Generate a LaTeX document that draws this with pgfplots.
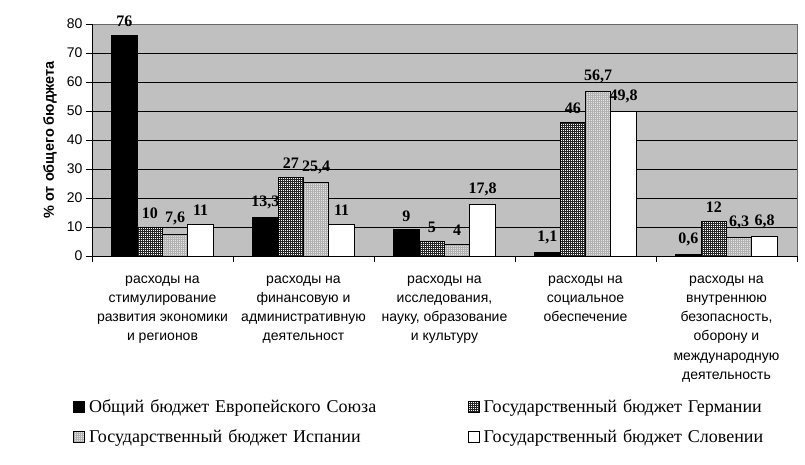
\documentclass[border=0pt]{standalone}
\usepackage{fontspec}
\setmainfont{Liberation Serif}
\setsansfont{Liberation Sans}
\usepackage{pgfplots}
\pgfplotsset{compat=1.18}
\usetikzlibrary{patterns.meta}
\definecolor{bgray}{RGB}{192,192,192}
\begin{document}
\begin{tikzpicture}[x=1pt,y=1pt]
\path[use as bounding box] (0,0) rectangle (805,465);
\begin{axis}[
  at={(92pt,209pt)}, anchor=south west,
  scale only axis, width=705pt, height=232pt,
  xmin=-0.5, xmax=4.5, ymin=0, ymax=80,
  axis x line*=bottom, axis y line*=left,
  axis line style={black, line width=0.8pt},
  axis background/.style={fill=bgray, draw=gray!80!black, line width=0.6pt},
  ybar=0pt, bar width=0.18,
  ytick={0,10,...,80},
  extra y ticks={10,20,...,70},
  extra y tick labels={},
  extra y tick style={ymajorgrids=true, major tick length=0pt, grid style={black, line width=0.8pt}},
  xtick={-0.5,0.5,...,4.5},
  xticklabels={},
  extra x ticks={0,1,2,3,4},
  extra x tick labels={
    {расходы на\\стимулирование\\развития экономики\\и регионов},
    {расходы на\\финансовую и\\административную\\деятельност},
    {расходы на\\исследования,\\науку, образование\\и культуру},
    {расходы на\\социальное\\обеспечение},
    {расходы на\\внутреннюю\\безопасность,\\оборону и\\международную\\деятельность}},
  extra x tick style={major tick length=0pt, xticklabel style={align=center, font=\sffamily\fontsize{14}{19.3}\selectfont, yshift=-16pt}},
  tick align=outside,
  major tick length=6pt,
  tick style={black, line width=0.8pt},
  yticklabel style={font=\sffamily\fontsize{14}{14}\selectfont},
  /pgf/number format/assume math mode=true,
  ylabel={\bfseries\% от общего бюджета},
  ylabel style={font=\sffamily\fontsize{14.5}{14.5}\selectfont, at={(axis description cs:-0.045,0.5)}},
  nodes near coords,
  point meta=explicit symbolic,
  nodes near coords style={font=\bfseries\fontsize{16}{16}\selectfont, anchor=south, yshift=5pt},
  legend columns=2,
  legend cell align=left,
  legend style={draw=none, fill=none, at={(axis description cs:-0.031,-0.6)}, anchor=north west,
    font=\fontsize{18}{18}\selectfont, row sep=12pt,
    /tikz/every odd column/.append style={column sep=0pt},
    nodes={text width=375pt, inner xsep=4pt}},
  legend image code/.code={\draw[#1, line width=0.7pt] (0pt,-5.5pt) rectangle (11pt,5.5pt);},
]
\addplot[fill=black, draw=black, line width=0.8pt] coordinates {(0,76) [76] (1,13.3) [13,3] (2,9) [9] (3,1.1) [1,1] (4,0.6) [0,6]};
\addplot[fill=white, draw=black, line width=0.8pt, postaction={pattern={Hatch[distance=2pt, line width=0.6pt]}, pattern color=black!85}] coordinates {(0,10) [10] (1,27) [27] (2,5) [5] (3,46) [46] (4,12) [12]};
\addplot[fill=gray!22, draw=black, line width=0.8pt, postaction={pattern={Hatch[distance=2pt, line width=0.25pt]}, pattern color=gray!60}] coordinates {(0,7.6) [{7,6}] (1,25.4) [{25,4}] (2,4) [4] (3,56.7) [{56,7}] (4,6.3) [{6,3}]};
\addplot[fill=white, draw=black, line width=0.8pt] coordinates {(0,11) [11] (1,11) [11] (2,17.8) [{17,8}] (3,49.8) [{49,8}] (4,6.8) [{6,8}]};
\legend{Общий бюджет Европейского Союза, Государственный бюджет Германии, Государственный бюджет Испании, Государственный бюджет Словении}
\end{axis}
\end{tikzpicture}
\end{document}
